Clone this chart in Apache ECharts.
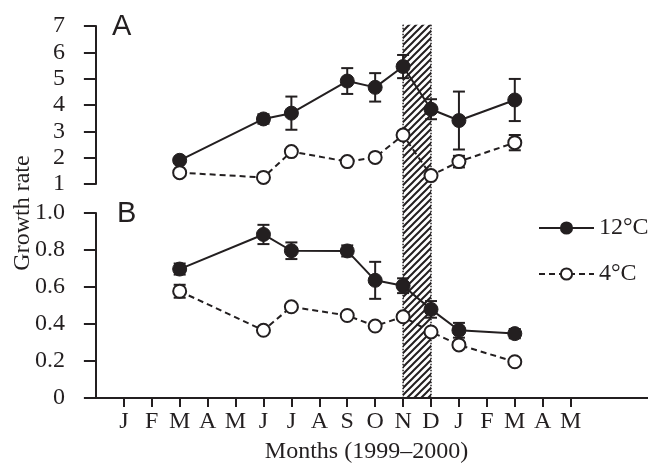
<!DOCTYPE html>
<html><head><meta charset="utf-8">
<script src="https://cdn.jsdelivr.net/npm/echarts@6/dist/echarts.min.js"></script>
<style>html,body{margin:0;padding:0;background:#fff}#c{width:648px;height:465px}</style>
</head><body><div id="c"></div>
<script>
// ---- data ----
const monthLabels = ['J','F','M','A','M','J','J','A','S','O','N','D','J','F','M','A','M'];
const monthIdx = [1,2,3,4,5,6,7,8,9,10,11,12,13,14,15,16,17];
const sampleMonths = [3,6,7,9,10,11,12,13,15];
const a12 = [1.90,3.47,3.69,4.91,4.67,5.46,3.84,3.41,4.19];
const a12err = [0.10,0.18,0.63,0.49,0.54,0.44,0.38,1.10,0.80];
const a4 = [1.43,1.25,2.23,1.85,2.01,2.86,1.32,1.85,2.57];
const a4err = [0.05,0.05,0.08,0.05,0.05,0.14,0.10,0.22,0.29];
const b12 = [0.697,0.884,0.796,0.795,0.636,0.607,0.479,0.366,0.348];
const b12err = [0.030,0.052,0.045,0.030,0.100,0.040,0.045,0.040,0.025];
const b4 = [0.577,0.366,0.493,0.446,0.389,0.439,0.357,0.287,0.196];
const b4err = [0.035,0.010,0.010,0.010,0.010,0.010,0.010,0.010,0.010];
const hatchMonths = [11, 12];   // November to December
const hatchTopValue = 7.05;     // top of band in panel A units
const yTicksA = [1,7,1];        // min, max, interval
const yTicksB = [0,1.0,0.2];

const INK = '#231f20';
const SERIF = 'Liberation Serif';

function pairs(xs, ys){ return xs.map((x,i)=>[x, ys[i]]); }
function errs(xs, ys, es){ return xs.map((x,i)=>[x, ys[i]-es[i], ys[i]+es[i]]); }

function errRender(params, api){
  const x = api.value(0), lo = api.value(1), hi = api.value(2);
  const pH = api.coord([x, hi]), pL = api.coord([x, lo]);
  const hw = 6, st = {stroke: INK, lineWidth: 2};
  return {type:'group', children:[
    {type:'line', shape:{x1:pH[0],y1:pH[1],x2:pL[0],y2:pL[1]}, style:st},
    {type:'line', shape:{x1:pH[0]-hw,y1:pH[1],x2:pH[0]+hw,y2:pH[1]}, style:st},
    {type:'line', shape:{x1:pL[0]-hw,y1:pL[1],x2:pL[0]+hw,y2:pL[1]}, style:st}
  ]};
}

// hatch pattern
const T = 7;
const pc = document.createElement('canvas'); pc.width = T; pc.height = T;
const g = pc.getContext('2d'); g.strokeStyle = INK; g.lineWidth = 2; g.lineCap='square';
g.beginPath(); g.moveTo(0,T); g.lineTo(T,0); g.moveTo(-1,1); g.lineTo(1,-1); g.moveTo(T-1,T+1); g.lineTo(T+1,T-1); g.stroke();

let hatchTopPx = null;
function hatchRender(params, api){
  if (hatchTopPx === null) return null;
  const pL = api.coord([api.value(0), 0]);
  const pR = api.coord([api.value(1), 0]);
  const top = hatchTopPx, bot = pL[1];
  const dot = {stroke: INK, lineWidth: 1.5, lineDash:[1.5,1.5]};
  return {type:'group', children:[
    {type:'rect', shape:{x:pL[0], y:top, width:pR[0]-pL[0], height:bot-top}, style:{fill:{image:pc, repeat:'repeat'}}},
    {type:'line', shape:{x1:pL[0],y1:top,x2:pL[0],y2:bot}, style:dot},
    {type:'line', shape:{x1:pR[0],y1:top,x2:pR[0],y2:bot}, style:dot}
  ]};
}

const XMIN = -0.39, XMAX = 19.77;
const labelStyle = {fontFamily: SERIF, fontSize: 24, color: INK};

function yAxis(gi, t, fmt){
  return {gridIndex: gi, type:'value', min:t[0], max:t[1], interval:t[2],
    axisLine:{show:true, onZero:true, lineStyle:{color:INK, width:2}},
    axisTick:{show:true, length:12, lineStyle:{color:INK, width:2}},
    axisLabel:Object.assign({margin:20, formatter: fmt}, labelStyle),
    splitLine:{show:false}};
}

const line12 = {type:'line', symbol:'circle', symbolSize:14, z:5,
  itemStyle:{color:INK, borderColor:INK, borderWidth:1},
  lineStyle:{color:INK, width:2, type:'solid'}};
const line4 = {type:'line', symbol:'circle', symbolSize:13, z:5,
  itemStyle:{color:'#fff', borderColor:INK, borderWidth:2},
  lineStyle:{color:INK, width:2, type:[6,4]}};

const option = {
  animation:false,
  backgroundColor:'#fff',
  grid:[{left:85, right:0, top:26, height:158},{left:85, right:0, top:213, height:186}],
  xAxis:[
    {gridIndex:0, type:'value', min:XMIN, max:XMAX, show:false},
    {gridIndex:1, type:'value', min:XMIN, max:XMAX,
      axisLine:{show:true, onZero:false, lineStyle:{color:INK, width:2}},
      axisTick:{show:true, length:9, customValues:monthIdx, lineStyle:{color:INK, width:2}},
      axisLabel:Object.assign({margin:12, customValues:monthIdx, formatter:v=>monthLabels[v-1]}, labelStyle),
      splitLine:{show:false},
      name:'Months (1999\u20132000)', nameLocation:'middle', nameGap:42,
      nameTextStyle:labelStyle}
  ],
  yAxis:[
    yAxis(0, yTicksA, v=>String(v)),
    yAxis(1, yTicksB, v=> v===0 ? '0' : v.toFixed(1))
  ],
  legend:{orient:'vertical', left:533, top:211, itemWidth:55, itemHeight:14, itemGap:22,
    textStyle:{fontFamily:SERIF, fontSize:24, color:INK}, data:['12°C','4°C']},
  graphic:[
    {type:'text', x:23, y:213, rotation:Math.PI/2, style:{text:'Growth rate', x:0, y:0, align:'center', verticalAlign:'middle', font:'24px "Liberation Serif"', fill:INK}},
    {type:'text', x:112, y:12, style:{text:'A', font:'29px "Liberation Sans"', fill:INK}},
    {type:'text', x:117, y:199, style:{text:'B', font:'29px "Liberation Sans"', fill:INK}}
  ],
  series:[
    {id:'hatch', type:'custom', xAxisIndex:1, yAxisIndex:1, clip:false, z:1, renderItem:hatchRender, data:[hatchMonths], silent:true},
    {type:'custom', xAxisIndex:0, yAxisIndex:0, z:3, renderItem:errRender, data:errs(sampleMonths,a12,a12err)},
    {type:'custom', xAxisIndex:0, yAxisIndex:0, z:3, renderItem:errRender, data:errs(sampleMonths,a4,a4err)},
    {type:'custom', xAxisIndex:1, yAxisIndex:1, z:3, renderItem:errRender, data:errs(sampleMonths,b12,b12err)},
    {type:'custom', xAxisIndex:1, yAxisIndex:1, z:3, renderItem:errRender, data:errs(sampleMonths,b4,b4err)},
    Object.assign({name:'12°C', xAxisIndex:0, yAxisIndex:0, data:pairs(sampleMonths,a12)}, line12),
    Object.assign({name:'4°C', xAxisIndex:0, yAxisIndex:0, data:pairs(sampleMonths,a4)}, line4),
    Object.assign({name:'12°C', xAxisIndex:1, yAxisIndex:1, data:pairs(sampleMonths,b12)}, line12),
    Object.assign({name:'4°C', xAxisIndex:1, yAxisIndex:1, data:pairs(sampleMonths,b4)}, line4)
  ]
};

const chart = echarts.init(document.getElementById('c'), null, {renderer:'canvas'});
chart.setOption(option);
hatchTopPx = chart.convertToPixel({yAxisIndex:0}, hatchTopValue);
chart.setOption({series:[{id:'hatch', data:[hatchMonths.slice()]}]});
</script>
</body></html>
